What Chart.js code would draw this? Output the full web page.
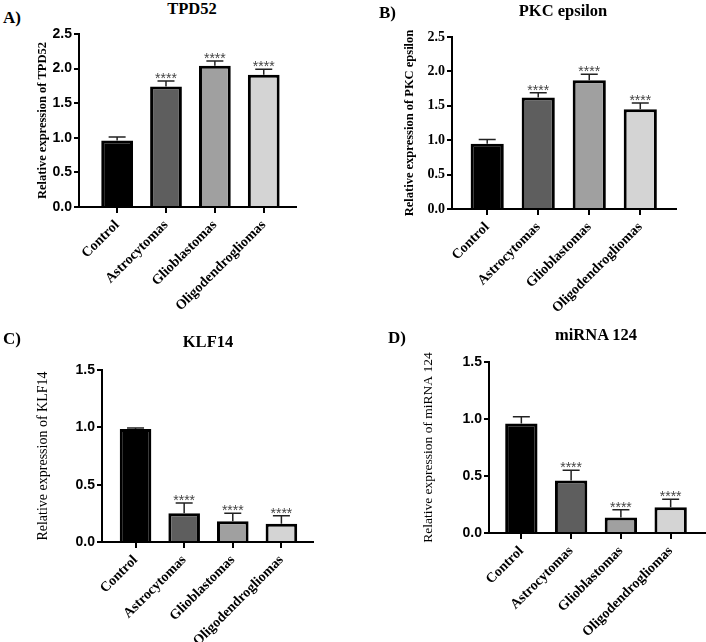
<!DOCTYPE html>
<html><head><meta charset="utf-8">
<script src="https://cdn.jsdelivr.net/npm/chart.js@4"></script>
<style>
html,body{margin:0;padding:0;background:#fff;width:706px;height:642px;overflow:hidden}
#wrap{position:relative;width:706px;height:642px;background:#fff;overflow:hidden}
canvas{position:absolute;left:0;top:0;pointer-events:none}
.t{position:absolute;font-family:'Liberation Serif','Times New Roman',serif;font-weight:bold;color:#000;white-space:nowrap;line-height:1;transform:translate(-50%,-50%)}
.l{position:absolute;font-family:'Liberation Serif','Times New Roman',serif;font-weight:bold;color:#000;white-space:nowrap;line-height:1;transform:translateY(-50%)}
</style></head><body><div id="wrap"></div>
<script>
// ---- data ----
const categories = ['Control', 'Astrocytomas', 'Glioblastomas', 'Oligodendrogliomas'];
const tpd52Values = [0.96, 1.74, 2.04, 1.91];
const tpd52Errors = [0.05, 0.08, 0.07, 0.08];
const pkcValues = [0.95, 1.62, 1.87, 1.45];
const pkcErrors = [0.06, 0.07, 0.09, 0.09];
const klf14Values = [0.985, 0.25, 0.18, 0.16];
const klf14Errors = [0.01, 0.09, 0.07, 0.07];
const mir124Values = [0.96, 0.46, 0.135, 0.225];
const mir124Errors = [0.06, 0.09, 0.07, 0.07];
const significance = ['', '****', '****', '****'];
const yTicksHigh = ['0.0', '0.5', '1.0', '1.5', '2.0', '2.5'];
const yTicksLow = ['0.0', '0.5', '1.0', '1.5'];
const panelLetters = ['A)', 'B)', 'C)', 'D)'];
const panelTitles = ['TPD52', 'PKC epsilon', 'KLF14', 'miRNA 124'];
const yLabels = ['Relative expression of TPD52', 'Relative expression of PKC epsilon', 'Relative expression of KLF14', 'Relative expression of miRNA 124'];

// ---- styles / layout ----
const barColors = ['#000000', '#5e5e5e', '#a0a0a0', '#d4d4d4'];
const SERIF = "'Liberation Serif','Times New Roman',serif";
const SANS = "'Liberation Sans',Arial,sans-serif";
const W = 706, H = 760, XH = 140;
const panels = [
  {values: tpd52Values, errors: tpd52Errors, yTicks: yTicksHigh, yMax: 2.5,
   box: {L: 79, R: 296, T: 34, B: 207}, xMin: -0.78, xMax: 3.66, yTitleCx: 43,
   tickFont: {family: SANS, weight: 'bold', size: 14}, yTitleFont: {family: SERIF, weight: 'bold', size: 12.5},
   title: {x: 192, y: 9}, letter: {x: 3, y: 17}},
  {values: pkcValues, errors: pkcErrors, yTicks: yTicksHigh, yMax: 2.5,
   box: {L: 452, R: 676, T: 37, B: 209}, xMin: -0.69, xMax: 3.70, yTitleCx: 410,
   tickFont: {family: SERIF, weight: 'bold', size: 14}, yTitleFont: {family: SERIF, weight: 'bold', size: 12.5},
   title: {x: 563, y: 11}, letter: {x: 379, y: 12}},
  {values: klf14Values, errors: klf14Errors, yTicks: yTicksLow, yMax: 1.5,
   box: {L: 102, R: 313, T: 370, B: 542}, xMin: -0.69, xMax: 3.65, yTitleCx: 43,
   tickFont: {family: SANS, weight: 'bold', size: 14}, yTitleFont: {family: SERIF, weight: 'normal', size: 14},
   title: {x: 208, y: 342}, letter: {x: 3, y: 338}},
  {values: mir124Values, errors: mir124Errors, yTicks: yTicksLow, yMax: 1.5,
   box: {L: 489, R: 705, T: 362, B: 533}, xMin: -0.65, xMax: 3.69, yTitleCx: 428,
   tickFont: {family: SANS, weight: 'bold', size: 14}, yTitleFont: {family: SERIF, weight: 'normal', size: 13.5},
   title: {x: 596, y: 335}, letter: {x: 388, y: 337}}
];

const errorBarPlugin = {
  id: 'errorBars',
  afterDatasetsDraw(chart, args, opts) {
    const {ctx, scales: {x, y}} = chart;
    const vals = opts.values, errs = opts.errors;
    ctx.save();
    vals.forEach((v, i) => {
      const px = x.getPixelForValue(i);
      const top = y.getPixelForValue(v);
      const cap = y.getPixelForValue(v + errs[i]);
      ctx.strokeStyle = '#222';
      ctx.lineWidth = 1.5;
      ctx.beginPath();
      ctx.moveTo(px, top); ctx.lineTo(px, cap);
      ctx.moveTo(px - 8.5, cap); ctx.lineTo(px + 8.5, cap);
      ctx.stroke();
      if (significance[i]) {
        ctx.fillStyle = '#444';
        ctx.font = "14px " + SANS;
        ctx.textAlign = 'center';
        ctx.textBaseline = 'alphabetic';
        ctx.fillText(significance[i], px, cap + 2);
      }
    });
    ctx.restore();
  }
};

const wrap = document.getElementById('wrap');
panels.forEach((p, k) => {
  const t = document.createElement('div');
  t.className = 't'; t.textContent = panelTitles[k];
  t.style.left = p.title.x + 'px'; t.style.top = p.title.y + 'px'; t.style.fontSize = '16.5px';
  wrap.appendChild(t);
  const l = document.createElement('div');
  l.className = 'l'; l.textContent = panelLetters[k];
  l.style.left = p.letter.x + 'px'; l.style.top = p.letter.y + 'px'; l.style.fontSize = '17px';
  wrap.appendChild(l);

  const cv = document.createElement('canvas');
  cv.width = W; cv.height = H; cv.style.width = W + 'px'; cv.style.height = H + 'px';
  wrap.appendChild(cv);
  const lh = p.yTitleFont.size * 1.2;
  const padLeft = p.yTitleCx - lh / 2;
  const yW = p.box.L - padLeft;
  new Chart(cv, {
    type: 'bar',
    data: {datasets: [{
      data: categories.map((c, i) => ({x: i, y: p.values[i]})),
      backgroundColor: barColors, borderColor: '#000', borderWidth: 3, borderSkipped: 'start',
      barPercentage: 0.65, categoryPercentage: 1
    }]},
    options: {
      responsive: false, animation: false, devicePixelRatio: 1,
      layout: {autoPadding: false, padding: {left: padLeft, top: p.box.T, right: W - p.box.R, bottom: H - p.box.B - XH}},
      plugins: {legend: {display: false}, tooltip: {enabled: false}, title: {display: false},
        errorBars: {values: p.values, errors: p.errors}},
      scales: {
        x: {type: 'linear', min: p.xMin, max: p.xMax, offset: false,
          grid: {display: true, offset: false, drawOnChartArea: false, drawTicks: true, tickLength: 6, color: '#000', lineWidth: 2},
          border: {display: true, color: '#000', width: 2},
          ticks: {stepSize: 1, includeBounds: false, autoSkip: false, minRotation: 45, maxRotation: 45, padding: 4,
            color: '#000', font: {family: SERIF, weight: 'bold', size: 14},
            callback: (v) => categories[v] !== undefined ? categories[v] : ''},
          afterFit: (s) => { s.height = XH; }},
        y: {min: 0, max: p.yMax,
          grid: {display: true, drawOnChartArea: false, drawTicks: true, tickLength: 5, color: '#000', lineWidth: 2},
          border: {display: true, color: '#000', width: 2},
          ticks: {stepSize: 0.5, padding: 2, color: '#000', font: p.tickFont,
            callback: (v, i) => p.yTicks[i]},
          title: {display: true, text: yLabels[k], font: p.yTitleFont, color: '#000', padding: 0},
          afterFit: (s) => { s.width = yW; }}
      }
    },
    plugins: [errorBarPlugin]
  });
});
</script></body></html>
